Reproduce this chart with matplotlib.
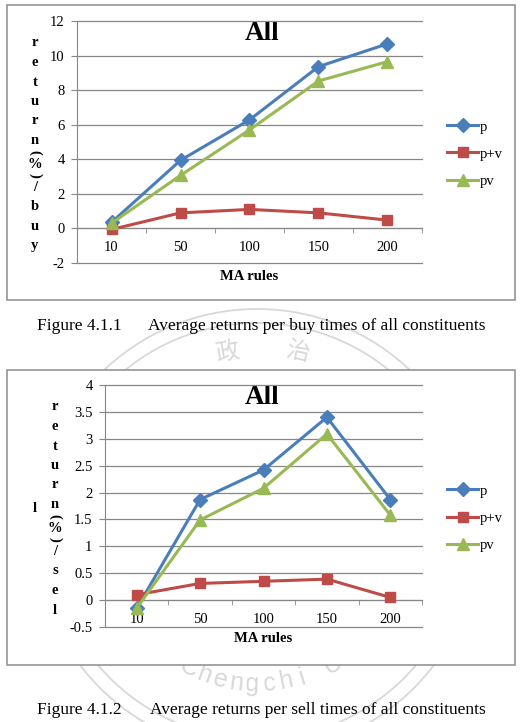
import numpy as np
import matplotlib
matplotlib.use('Agg')
import matplotlib.pyplot as plt
from matplotlib.patches import Circle, Rectangle
from matplotlib.ticker import FuncFormatter

ma_rules = ['10', '50', '100', '150', '200']
series_names = ['p', 'p+v', 'pv']

buy_p = [0.35, 3.94, 6.28, 9.36, 10.68]
buy_p_plus_v = [-0.06, 0.90, 1.10, 0.90, 0.48]
buy_pv = [0.30, 3.07, 5.70, 8.53, 9.65]

sell_p = [-0.15, 1.87, 2.42, 3.40, 1.87]
sell_p_plus_v = [0.10, 0.31, 0.35, 0.39, 0.05]
sell_pv = [-0.15, 1.49, 2.08, 3.09, 1.58]

buy_ylabel = ['r', 'e', 't', 'u', 'r', 'n', '(', '%', ')', '/', 'b', 'u', 'y']
sell_ylabel = ['r', 'e', 't', 'u', 'r', 'n', '(', '%', ')', '/', 's', 'e', 'l']

caption1 = ('Figure 4.1.1', 'Average returns per buy times of all constituents')
caption2 = ('Figure 4.1.2', 'Average returns per sell times of all constituents')

colors = ['#4A7EBB', '#BE4B48', '#98B954']
markers = ['D', 's', '^']
msizes = [7, 7.5, 8.5]
grid_c = '#878787'
box_c = '#8c8c8c'
wm_c = '#d8d8d8'

W, H = 525, 722
plt.rcParams['font.family'] = 'Liberation Serif'
fig = plt.figure(figsize=(W / 100, H / 100), dpi=100)

# background axes in pixel coordinates (y down)
bg = fig.add_axes([0, 0, 1, 1])
bg.set_xlim(0, W)
bg.set_ylim(H, 0)
bg.axis('off')

# faint seal watermark behind the chart boxes
cx, cy = 257, 531
for r in (222, 208):
    bg.add_patch(Circle((cx, cy), r, fill=False, ec=wm_c, lw=1.3, zorder=0))
bg.text(227, 352, '政', family='Noto Sans CJK TC', fontsize=17, color=wm_c,
        rotation=10, ha='center', va='center', zorder=0)
bg.text(297, 352, '治', family='Noto Sans CJK TC', fontsize=17, color=wm_c,
        rotation=-12, ha='center', va='center', zorder=0)
for k, ch in enumerate('Chengchi Univ'):
    a = -90 + (k - 4.26) * 6.2
    tx = cx + 153 * np.cos(np.radians(a))
    ty = cy - 153 * np.sin(np.radians(a))
    bg.text(tx, ty, ch, family='Liberation Sans', fontsize=18, color=wm_c,
            rotation=a + 90, ha='center', va='center', zorder=0)

# chart boxes
bg.add_patch(Rectangle((7, 5), 508, 295, fc='white', ec=box_c, lw=1.1, zorder=2))
bg.add_patch(Rectangle((7, 370), 508, 295, fc='white', ec=box_c, lw=1.1, zorder=2))


def px_axes(l, t, r, b):
    return fig.add_axes([l / W, 1 - b / H, (r - l) / W, (b - t) / H])


def stacked_label(chars, x, y0):
    y = y0
    prev = None
    for ch in chars:
        h = 4 if ch in '()' else 19.5
        if prev is not None:
            y += (prev + h) / 2
        bg.text(x, y, ch, fontsize=10.5, fontweight='bold', ha='center', va='center',
                rotation=-90 if ch in '()' else 0, zorder=3)
        prev = h


def draw_chart(ax, series, ylo, yhi, step, legend_y):
    x = np.arange(len(ma_rules))
    ax.set_facecolor('none')
    for vals, name, col, mk, ms in zip(series, series_names, colors, markers, msizes):
        ax.plot(x, vals, color=col, lw=2.2, marker=mk, ms=ms, mec=col, mfc=col,
                label=name, zorder=3, clip_on=False)
    ax.set_xlim(-0.5, len(ma_rules) - 0.5)
    ax.set_ylim(ylo, yhi)
    ax.set_yticks(np.arange(ylo, yhi + step / 2, step))
    ax.yaxis.set_major_formatter(FuncFormatter(lambda v, _: f'{v:g}'))
    ax.yaxis.grid(True, color=grid_c, lw=0.9)
    for gl in ax.get_ygridlines():
        gl.set_clip_on(False)
    ax.set_axisbelow(True)
    for s in ('top', 'right'):
        ax.spines[s].set_visible(False)
    ax.spines['left'].set_color(grid_c)
    ax.spines['bottom'].set_color(grid_c)
    ax.spines['bottom'].set_position(('data', 0))
    ax.set_xticks(x)
    ax.set_xticklabels(ma_rules)
    ax.set_xticks(np.arange(0.5, len(ma_rules), 1), minor=True)
    ax.tick_params(axis='x', which='major', length=0, pad=9, labelsize=10.5)
    ax.tick_params(axis='x', which='minor', length=3.5, color=grid_c)
    ax.tick_params(axis='y', length=4, color=grid_c, pad=5, labelsize=10.5)
    ax.legend(loc='center left', bbox_to_anchor=(440 / W, 1 - legend_y / H),
              bbox_transform=fig.transFigure, frameon=False, borderpad=0,
              handlelength=2.1, handletextpad=0.15, labelspacing=0.95, fontsize=10.5)


ax1 = px_axes(77, 21, 422, 263)
draw_chart(ax1, [buy_p, buy_p_plus_v, buy_pv], -2, 12, 2, 154)
bg.text(262, 33, 'All', fontsize=19.5, fontweight='bold', ha='center', va='center', zorder=3)
bg.text(249.5, 276, 'MA rules', fontsize=10.5, fontweight='bold', ha='center', va='center', zorder=3)
stacked_label(buy_ylabel, 35, 43)

ax2 = px_axes(105, 385, 422, 627)
draw_chart(ax2, [sell_p, sell_p_plus_v, sell_pv], -0.5, 4, 0.5, 518)
bg.text(262, 397, 'All', fontsize=19.5, fontweight='bold', ha='center', va='center', zorder=3)
bg.text(263.5, 638, 'MA rules', fontsize=10.5, fontweight='bold', ha='center', va='center', zorder=3)
stacked_label(sell_ylabel, 55, 407)
bg.text(35, 508, 'l', fontsize=10.5, fontweight='bold', ha='center', va='center', zorder=3)

# captions
for (fig_no, text), y in ((caption1, 326), (caption2, 710)):
    bg.text(37, y, fig_no, fontsize=12.5, ha='left', va='center', zorder=3)
    bg.text(486, y, text, fontsize=12.5, ha='right', va='center', zorder=3)

fig.savefig('out.png', dpi=100)
